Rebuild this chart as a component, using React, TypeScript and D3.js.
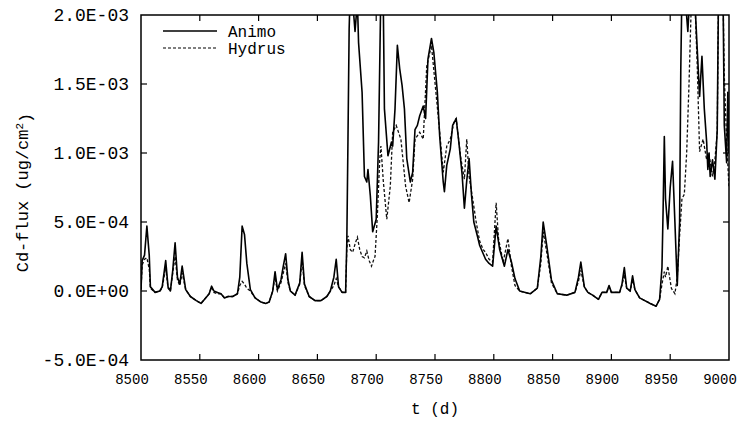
import React, { useRef, useEffect } from "react";
import * as d3 from "d3";

// flux values are read in units of 1e-4 ug/cm2
const UNIT = 1e-4;

const animo: [number, number][] = [
  [8500, 0.1], [8501, 2.2], [8503, 2.6], [8505, 4.7], [8507, 2.6], [8508, 0.3], [8512, -0.1], [8516, 0.0],
  [8518, 0.3], [8521, 2.2], [8523, 0.3], [8525, 0.0], [8527, 1.5], [8529, 3.5], [8531, 1.0], [8533, 0.5],
  [8535, 1.8], [8538, 0.1], [8542, -0.4], [8547, -0.7], [8551, -0.9], [8555, -0.5], [8558, -0.2], [8560, 0.35],
  [8562, 0.0], [8565, -0.1], [8568, -0.2], [8571, -0.5], [8574, -0.4], [8578, -0.4], [8582, -0.2], [8584, 1.0],
  [8586, 4.7], [8588, 4.1], [8590, 2.0], [8593, 0.1], [8597, -0.5], [8602, -0.8], [8606, -0.9], [8609, -0.8],
  [8612, 0.0], [8614, 1.4], [8616, 0.1], [8619, 0.8], [8621, 1.8], [8623, 2.7], [8625, 0.8], [8627, 0.0],
  [8631, -0.3], [8635, 0.6], [8637, 2.8], [8639, 0.5], [8643, -0.4], [8648, -0.7], [8653, -0.7], [8658, -0.4],
  [8661, 0.0], [8664, 1.0], [8666, 2.3], [8668, 0.3], [8671, -0.1], [8674, -0.1], [8675, 3.5], [8676, 11],
  [8677, 19], [8678, 22], [8680, 21], [8682, 18.8], [8684, 21], [8685, 18], [8688, 14.4], [8690, 8.3],
  [8692, 7.9], [8693, 8.8], [8695, 6.9], [8697, 4.3], [8700, 5.2], [8702, 10.8], [8704, 22], [8706, 21],
  [8707, 13.2], [8710, 9.8], [8713, 10.8], [8714, 10.5], [8716, 13.2], [8718, 17.8], [8720, 16.1], [8722, 14.9],
  [8724, 13.2], [8726, 9.6], [8729, 7.9], [8731, 8.6], [8733, 11.7], [8735, 12.0], [8737, 12.7], [8740, 13.4],
  [8742, 12.5], [8744, 16.8], [8747, 18.3], [8749, 17.3], [8752, 14.4], [8754, 11.2], [8757, 7.9], [8758, 7.2],
  [8760, 9.1], [8763, 10.3], [8765, 12.0], [8768, 12.5], [8770, 11.0], [8773, 8.5], [8775, 6.0], [8777, 8.0],
  [8779, 9.6], [8781, 7.0], [8783, 5.0], [8786, 4.0], [8788, 3.3], [8791, 2.7], [8793, 2.3], [8796, 2.0],
  [8799, 1.8], [8802, 4.7], [8805, 3.0], [8809, 1.8], [8812, 3.0], [8815, 2.1], [8818, 0.9], [8822, 0.0],
  [8831, -0.2], [8837, 0.2], [8840, 2.5], [8842, 5.0], [8845, 3.3], [8849, 0.8], [8854, -0.2], [8862, -0.3],
  [8869, -0.1], [8872, 1.0], [8874, 2.1], [8877, 0.3], [8880, -0.1], [8884, -0.3], [8889, -0.6], [8892, -0.1],
  [8896, -0.1], [8898, 0.4], [8900, -0.1], [8907, -0.1], [8909, 0.5], [8911, 1.7], [8913, 0.2], [8916, 0.0],
  [8918, 1.1], [8920, 0.1], [8924, -0.5], [8933, -0.9], [8938, -1.1], [8941, -0.6], [8943, 1.7], [8944, 6],
  [8945, 11.2], [8946, 6.7], [8948, 4.5], [8950, 7.5], [8952, 9.4], [8954, 5.0], [8956, 0.4], [8958, 5.0],
  [8959, 16], [8960, 22], [8963, 21], [8965, 18.8], [8967, 22], [8971, 21], [8973, 17.5], [8975, 14.1],
  [8977, 17.0], [8979, 13.2], [8981, 10.8], [8982, 8.8], [8983, 10.0], [8984, 8.3], [8986, 9.5], [8988, 8.1],
  [8990, 11.7], [8991, 21], [8995, 21], [8996, 12.0], [8998, 9.3], [8999, 14.4], [9000, 10],
];

const hydrus: [number, number][] = [
  [8500, 0.1], [8501, 1.9], [8503, 2.3], [8505, 2.4], [8507, 1.6], [8508, 0.2], [8512, -0.1], [8516, 0.0],
  [8518, 0.2], [8521, 1.7], [8523, 0.2], [8525, 0.0], [8527, 1.3], [8529, 2.5], [8531, 0.8], [8533, 0.4],
  [8535, 1.3], [8538, 0.1], [8542, -0.4], [8547, -0.7], [8551, -0.9], [8555, -0.5], [8558, -0.2], [8560, 0.3],
  [8562, -0.1], [8565, -0.2], [8568, -0.2], [8571, -0.5], [8574, -0.4], [8578, -0.4], [8582, -0.2], [8584, 0.4],
  [8586, 0.7], [8588, 0.5], [8590, 0.2], [8593, 0.0], [8597, -0.5], [8602, -0.8], [8606, -0.9], [8609, -0.8],
  [8612, 0.0], [8614, 1.0], [8616, 0.0], [8619, 0.6], [8621, 1.3], [8623, 2.0], [8625, 0.6], [8627, 0.0],
  [8631, -0.3], [8635, 0.5], [8637, 2.3], [8639, 0.4], [8643, -0.4], [8648, -0.7], [8653, -0.7], [8658, -0.4],
  [8661, 0.0], [8664, 0.4], [8666, 0.9], [8668, 0.3], [8671, -0.1], [8674, -0.1], [8675, 3.0], [8676, 4.0],
  [8678, 3.0], [8680, 2.8], [8682, 3.4], [8684, 3.9], [8686, 3.0], [8688, 2.5], [8690, 2.4], [8692, 2.9],
  [8694, 2.2], [8696, 1.8], [8698, 2.3], [8699, 2.5], [8701, 5.5], [8703, 9.5], [8704, 10.5], [8706, 8.0],
  [8709, 5.2], [8712, 7.6], [8714, 11.5], [8717, 12.0], [8721, 11.0], [8725, 7.6], [8728, 6.4], [8731, 8.1],
  [8733, 11.0], [8737, 11.5], [8740, 11.0], [8743, 16.3], [8747, 17.8], [8750, 15.1], [8754, 11.5], [8757, 8.6],
  [8760, 10.5], [8763, 11.0], [8766, 12.2], [8768, 12.5], [8772, 9.6], [8775, 8.1], [8777, 11.0], [8779, 8.3],
  [8782, 6.7], [8785, 5.0], [8788, 3.6], [8791, 3.0], [8793, 2.8], [8796, 2.3], [8799, 2.1], [8802, 6.4],
  [8804, 3.8], [8808, 2.1], [8812, 3.8], [8815, 1.8], [8818, 0.4], [8822, 0.0], [8831, -0.2], [8837, 0.2],
  [8840, 2.0], [8842, 4.3], [8845, 2.8], [8849, 0.6], [8854, -0.2], [8862, -0.3], [8869, -0.1], [8872, 0.7],
  [8874, 1.5], [8877, 0.3], [8880, -0.1], [8884, -0.3], [8889, -0.6], [8892, -0.1], [8896, -0.1], [8898, 0.3],
  [8900, -0.1], [8907, -0.1], [8909, 0.4], [8911, 1.2], [8913, 0.2], [8916, 0.0], [8918, 0.8], [8920, 0.1],
  [8924, -0.5], [8933, -0.9], [8938, -1.1], [8941, -0.6], [8943, 0.5], [8945, 1.4], [8946, 1.0], [8948, 1.8],
  [8951, 0.2], [8954, -0.2], [8956, 1.0], [8958, 4.0], [8960, 6.7], [8962, 7.0], [8964, 10], [8966, 15],
  [8968, 21], [8971, 21], [8973, 16.3], [8975, 10.1], [8978, 11.0], [8981, 9.5], [8983, 9.9], [8986, 8.3],
  [8988, 9.5], [8990, 11.5], [8991, 21], [8995, 21], [8996, 15.6], [8998, 10.8], [9000, 7.5],
];

const xTicks = [8500, 8550, 8600, 8650, 8700, 8750, 8800, 8850, 8900, 8950, 9000];
const yTicks = [-5e-4, 0, 5e-4, 1e-3, 1.5e-3, 2e-3];
const yTickLabels = ["-5.0E-04", "0.0E+00", "5.0E-04", "1.0E-03", "1.5E-03", "2.0E-03"];

const W = 750;
const H = 421;
const margin = { left: 141, right: 21, top: 15, bottom: 61 };
const mono = "'Liberation Mono', 'DejaVu Sans Mono', monospace";

function App() {
  const svgRef = useRef<SVGSVGElement>(null);

  useEffect(() => {
    const svg = d3.select(svgRef.current);
    svg.selectAll("*").remove();

    const x = d3.scaleLinear().domain([8500, 9000]).range([margin.left, W - margin.right]);
    const y = d3.scaleLinear().domain([-5e-4, 2e-3]).range([H - margin.bottom, margin.top]);

    const [x0, x1] = x.range();
    const [y0, y1] = y.range();

    svg
      .append("defs")
      .append("clipPath")
      .attr("id", "plot-clip")
      .append("rect")
      .attr("x", x0)
      .attr("y", y1)
      .attr("width", x1 - x0)
      .attr("height", y0 - y1);

    const line = d3
      .line<[number, number]>()
      .x((d) => x(d[0]))
      .y((d) => y(d[1] * UNIT));

    const plot = svg.append("g").attr("clip-path", "url(#plot-clip)");

    //dashed Hydrus first so the solid line sits on top
    plot
      .append("path")
      .datum(hydrus)
      .attr("d", line)
      .attr("fill", "none")
      .attr("stroke", "#111")
      .attr("stroke-width", 1.3)
      .attr("stroke-dasharray", "3,2");

    plot
      .append("path")
      .datum(animo)
      .attr("d", line)
      .attr("fill", "none")
      .attr("stroke", "#000")
      .attr("stroke-width", 1.6)
      .attr("stroke-linejoin", "round");

    //frame
    svg
      .append("rect")
      .attr("x", x0)
      .attr("y", y1)
      .attr("width", x1 - x0)
      .attr("height", y0 - y1)
      .attr("fill", "none")
      .attr("stroke", "#000")
      .attr("stroke-width", 1.5);

    //inward ticks on all four sides
    const tickLen = 6;
    const ticks = svg.append("g").attr("stroke", "#000").attr("stroke-width", 1.2);
    xTicks.slice(1, -1).forEach((t) => {
      ticks.append("line").attr("x1", x(t)).attr("x2", x(t)).attr("y1", y0).attr("y2", y0 - tickLen);
      ticks.append("line").attr("x1", x(t)).attr("x2", x(t)).attr("y1", y1).attr("y2", y1 + tickLen);
    });
    yTicks.slice(1, -1).forEach((t) => {
      ticks.append("line").attr("x1", x0).attr("x2", x0 + tickLen).attr("y1", y(t)).attr("y2", y(t));
      ticks.append("line").attr("x1", x1).attr("x2", x1 - tickLen).attr("y1", y(t)).attr("y2", y(t));
    });

    //tick labels
    svg
      .append("g")
      .selectAll("text")
      .data(xTicks)
      .join("text")
      .attr("x", (d) => x(d) - 9)
      .attr("y", y0 + 24)
      .attr("text-anchor", "middle")
      .style("font", `14px ${mono}`)
      .text((d) => d);

    svg
      .append("g")
      .selectAll("text")
      .data(yTicks)
      .join("text")
      .attr("x", x0 - 12)
      .attr("y", (d) => y(d))
      .attr("dy", "0.35em")
      .attr("text-anchor", "end")
      .style("font", `18px ${mono}`)
      .text((d, i) => yTickLabels[i]);

    //axis titles
    svg
      .append("text")
      .attr("x", (x0 + x1) / 2)
      .attr("y", 414)
      .attr("text-anchor", "middle")
      .style("font", `16px ${mono}`)
      .text("t (d)");

    const yTitle = svg
      .append("text")
      .attr("transform", `translate(28,${(y0 + y1) / 2 + 5}) rotate(-90)`)
      .attr("text-anchor", "middle")
      .style("font", `17px ${mono}`);
    yTitle.append("tspan").text("Cd-flux (ug/cm");
    yTitle.append("tspan").attr("dy", "-0.45em").style("font-size", "11px").text("2");
    yTitle.append("tspan").attr("dy", "0.45em").text(")");

    //legend
    const legend = svg.append("g");
    const items = [
      { name: "Animo", dash: null, yy: 31 },
      { name: "Hydrus", dash: "3,2", yy: 48 },
    ];
    items.forEach((it) => {
      legend
        .append("line")
        .attr("x1", 163)
        .attr("x2", 217)
        .attr("y1", it.yy)
        .attr("y2", it.yy)
        .attr("stroke", "#000")
        .attr("stroke-width", it.dash ? 1.2 : 1.4)
        .attr("stroke-dasharray", it.dash);
      legend
        .append("text")
        .attr("x", 228)
        .attr("y", it.yy)
        .attr("dy", "0.35em")
        .style("font", `16px ${mono}`)
        .text(it.name);
    });
  }, []);

  return (
    <svg
      ref={svgRef}
      width={W}
      height={H}
      style={{ position: "absolute", left: 0, top: 0, background: "#fff" }}
    ></svg>
  );
}

export default App;
